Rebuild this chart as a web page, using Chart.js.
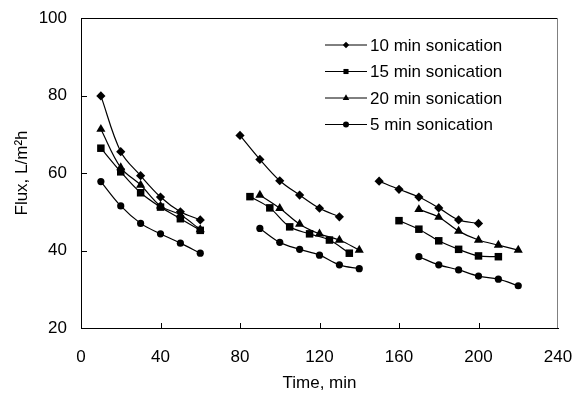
<!DOCTYPE html>
<html>
<head>
<meta charset="utf-8">
<script src="https://cdn.jsdelivr.net/npm/chart.js@4.4.0/dist/chart.umd.min.js"></script>
<style>
  html, body { margin: 0; padding: 0; background: #fff; }
</style>
</head>
<body>
<canvas id="chart" width="574" height="394"></canvas>
<script>
// flux readings (L/m2h) per sonication time, three filtration runs each
const time10 = [10, 20, 30, 40, 50, 60, 80, 90, 100, 110, 120, 130, 150, 160, 170, 180, 190, 200];
const flux10 = [79.9, 65.5, 59.3, 53.8, 50.0, 47.9, 69.7, 63.5, 58.0, 54.3, 50.9, 48.7, 57.9, 55.8, 53.8, 51.0, 47.9, 47.0];

const time15 = [10, 20, 30, 40, 50, 60, 85, 95, 105, 115, 125, 135, 160, 170, 180, 190, 200, 210];
const flux15 = [66.4, 60.3, 54.9, 51.2, 48.2, 45.2, 53.9, 51.0, 46.1, 44.3, 42.7, 39.3, 47.7, 45.5, 42.5, 40.3, 38.6, 38.4];

const time20 = [10, 20, 30, 40, 50, 60, 90, 100, 110, 120, 130, 140, 170, 180, 190, 200, 210, 220];
const flux20 = [71.3, 61.4, 56.9, 51.5, 49.2, 45.4, 54.3, 50.9, 46.8, 44.3, 42.7, 40.1, 50.6, 48.6, 45.0, 42.7, 41.4, 40.1];

const time5 = [10, 20, 30, 40, 50, 60, 90, 100, 110, 120, 130, 140, 170, 180, 190, 200, 210, 220];
const flux5 = [57.8, 51.5, 47.0, 44.3, 41.9, 39.3, 45.7, 42.1, 40.3, 38.8, 36.3, 35.3, 38.4, 36.3, 35.0, 33.4, 32.6, 30.9];

const xTicks = [0, 40, 80, 120, 160, 200, 240];
const yTicks = [20, 40, 60, 80, 100];

const FONT = '"Liberation Sans", Arial, sans-serif';

// break the line between runs (gap in time > 15 min)
function toPoints(times, values) {
  const pts = [];
  times.forEach((t, i) => {
    if (i > 0 && t - times[i - 1] > 15) pts.push({ x: (t + times[i - 1]) / 2, y: null });
    pts.push({ x: t, y: values[i] });
  });
  return pts;
}

function series(label, times, values, style, radius, legendRadius) {
  return {
    label: label,
    data: toPoints(times, values),
    borderColor: '#000',
    backgroundColor: '#000',
    borderWidth: 1.2,
    pointStyle: style,
    pointRadius: radius,
    pointHoverRadius: radius,
    pointBorderWidth: 0,
    legendRadius: legendRadius,
    tension: 0.35,
    spanGaps: false
  };
}

const framePlugin = {
  id: 'frame',
  afterDraw(chart) {
    const ctx = chart.ctx;
    const a = chart.chartArea;
    const xs = chart.scales.x, ys = chart.scales.y;
    ctx.save();
    ctx.lineWidth = 1;
    // top and right border
    ctx.strokeStyle = '#000';
    ctx.beginPath();
    ctx.moveTo(a.left, a.top + 0.5);
    ctx.lineTo(a.right, a.top + 0.5);
    ctx.stroke();
    ctx.strokeStyle = '#808080';
    ctx.beginPath();
    ctx.moveTo(a.right - 0.5, a.top);
    ctx.lineTo(a.right - 0.5, a.bottom);
    ctx.stroke();
    // inward tick marks
    ctx.strokeStyle = '#000';
    ctx.beginPath();
    xTicks.slice(1, -1).forEach(v => {
      const px = Math.round(xs.getPixelForValue(v)) + 0.5;
      ctx.moveTo(px, a.bottom);
      ctx.lineTo(px, a.bottom - 5);
    });
    yTicks.slice(1, -1).forEach(v => {
      const py = Math.round(ys.getPixelForValue(v)) + 0.5;
      ctx.moveTo(a.left, py);
      ctx.lineTo(a.left + 6, py);
    });
    ctx.stroke();

    // legend inside the plot
    const lx = 325, lw = 42, ly0 = 45, step = 26.5;
    ctx.font = '17px ' + FONT;
    ctx.textBaseline = 'middle';
    ctx.fillStyle = '#000';
    chart.data.datasets.forEach((ds, i) => {
      const y = ly0 + i * step;
      ctx.strokeStyle = '#000';
      ctx.lineWidth = 1;
      ctx.beginPath();
      ctx.moveTo(lx, y);
      ctx.lineTo(lx + lw, y);
      ctx.stroke();
      Chart.helpers.drawPoint(ctx, { pointStyle: ds.pointStyle, radius: ds.legendRadius, borderWidth: 0, rotation: 0 }, lx + lw / 2, y);
      ctx.fillText(ds.label, lx + lw + 3, y + 1);
    });
    ctx.restore();
  }
};

new Chart(document.getElementById('chart').getContext('2d'), {
  type: 'line',
  data: {
    datasets: [
      series('10 min sonication', time10, flux10, 'rectRot', 4.6, 3.2),
      series('15 min sonication', time15, flux15, 'rect', 5.3, 3.6),
      series('20 min sonication', time20, flux20, 'triangle', 5.3, 3.8),
      series('5 min sonication', time5, flux5, 'circle', 3.6, 3)
    ]
  },
  options: {
    responsive: false,
    animation: false,
    layout: { padding: { top: 18, right: 16, left: 0, bottom: 0 } },
    plugins: {
      legend: { display: false },
      tooltip: { enabled: false }
    },
    scales: {
      x: {
        type: 'linear',
        min: 0,
        max: 240,
        afterBuildTicks: s => { s.ticks = xTicks.map(v => ({ value: v })); },
        grid: { display: false, drawTicks: false },
        border: { display: true, color: '#000', width: 1 },
        ticks: { color: '#000', padding: 19, maxRotation: 0, font: { family: FONT, size: 17 } },
        title: { display: true, text: 'Time, min', color: '#000', padding: { top: 6, bottom: 0 }, font: { family: FONT, size: 17 } },
        afterFit: s => { s.height = 66; s.paddingLeft = 0; s.paddingRight = 0; }
      },
      y: {
        min: 20,
        max: 100,
        afterBuildTicks: s => { s.ticks = yTicks.map(v => ({ value: v })); },
        grid: { display: false, drawTicks: false },
        border: { display: true, color: '#000', width: 1 },
        ticks: { color: '#000', padding: 14, font: { family: FONT, size: 17 } },
        title: { display: true, text: 'Flux, L/m²h', color: '#000', padding: { top: 12, bottom: 0 }, font: { family: FONT, size: 17 } },
        afterFit: s => { s.width = 81; s.paddingTop = 0; s.paddingBottom = 0; }
      }
    }
  },
  plugins: [framePlugin]
});
</script>
</body>
</html>
